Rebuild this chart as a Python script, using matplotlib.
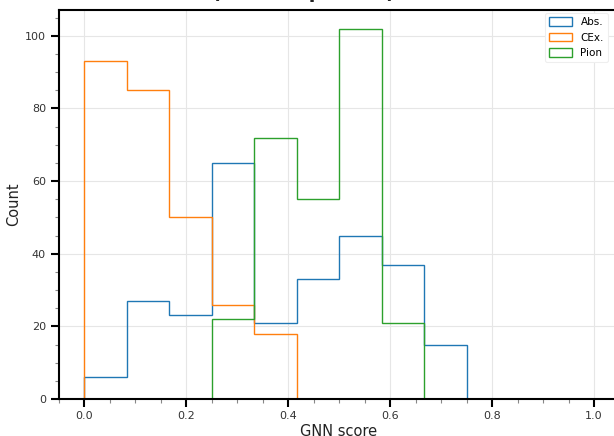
import numpy as np
import matplotlib
matplotlib.use("Agg")
import matplotlib.pyplot as plt
from matplotlib.ticker import AutoMinorLocator, MultipleLocator

# Histogram bin edges (12 equal bins over the score range)
bin_edges = np.linspace(0.0, 1.0, 13)

# Counts per bin for each true topology
abs_counts = [6, 27, 23, 65, 21, 33, 45, 37, 15, 0, 0, 0]
cex_counts = [93, 85, 50, 26, 18, 0, 0, 0, 0, 0, 0, 0]
pion_counts = [0, 0, 0, 22, 72, 55, 102, 21, 0, 0, 0, 0]

labels = ["Abs.", "CEx.", "Pion"]
colors = ["#1f77b4", "#ff7f0e", "#2ca02c"]

fig = plt.figure(figsize=(6.14, 4.36), dpi=100)
ax = fig.add_axes([0.0953, 0.0849, 0.9137, 0.892])

centers = 0.5 * (bin_edges[:-1] + bin_edges[1:])
for counts, lab, col in zip([abs_counts, cex_counts, pion_counts], labels, colors):
    ax.hist(centers, bins=bin_edges, weights=counts, histtype="step",
            color=col, linewidth=1.0, label=lab)

ax.set_xlim(-0.05, 1.05)
ax.set_ylim(0, 107.1)

ax.xaxis.set_major_locator(MultipleLocator(0.2))
ax.xaxis.set_minor_locator(AutoMinorLocator(4))
ax.yaxis.set_major_locator(MultipleLocator(20))
ax.yaxis.set_minor_locator(AutoMinorLocator(4))

ax.grid(True, which="major", color="#e6e6e6", linewidth=0.8)
ax.set_axisbelow(True)

for side in ["left", "bottom", "top"]:
    ax.spines[side].set_linewidth(1.5)
    ax.spines[side].set_color("black")
ax.spines["right"].set_visible(False)

ax.tick_params(which="major", length=6, width=1.5, color="black",
               labelsize=8, labelcolor="#333333", pad=3)
ax.tick_params(which="minor", length=3, width=0.8, color="#888888")

ax.set_xlabel("GNN score", fontsize=10.5, color="#222222", labelpad=2)
ax.set_ylabel("Count", fontsize=10.5, color="#222222", labelpad=3)

leg = ax.legend(loc="upper right", bbox_to_anchor=(0.985, 1.0), fontsize=7.5,
                frameon=True, framealpha=1.0, edgecolor="#eeeeee",
                handlelength=2.2, handleheight=0.9, borderaxespad=0.3)
leg.get_frame().set_linewidth(0.8)

# Title sits above the visible area
fig.text(0.345, 1.004, "(MC Sample Set) Scores", ha="left", va="baseline",
         fontsize=14, fontweight="bold", color="#222222")

fig.savefig("out.png", dpi=100)
